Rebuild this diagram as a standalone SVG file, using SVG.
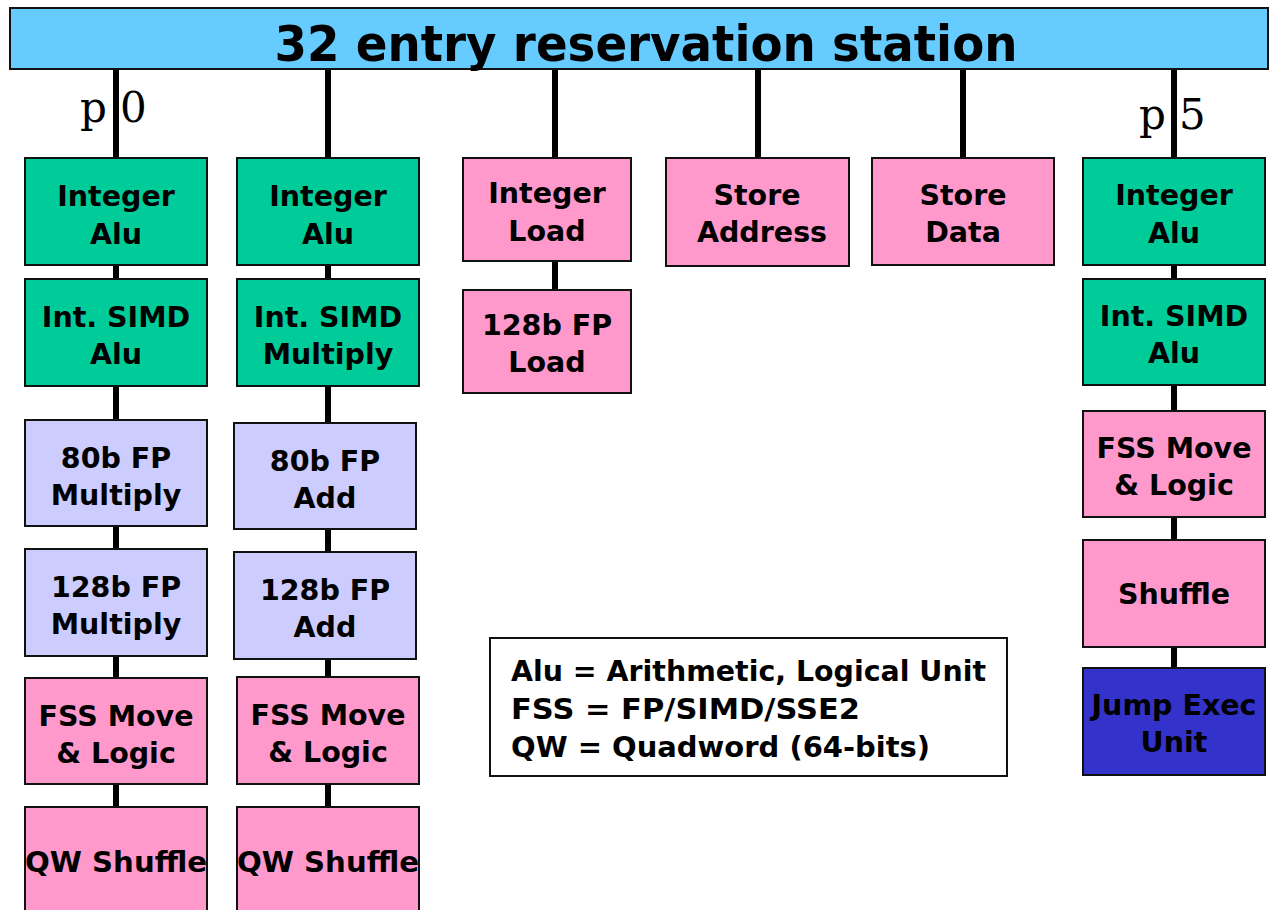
<svg xmlns="http://www.w3.org/2000/svg" width="1269" height="910" viewBox="0 0 1269 910">
<style>
.box{stroke:#111;stroke-width:2}
.g{fill:#00CC99}.p{fill:#FF99CC}.l{fill:#CCCCFF}.d{fill:#3333CC}
.t{font-family:"DejaVu Sans",sans-serif;font-weight:bold;font-size:28.5px;text-anchor:middle;fill:#000}
.lg{font-family:"DejaVu Sans",sans-serif;font-weight:bold;font-size:29px;fill:#000}
.port{font-family:"DejaVu Serif","Liberation Serif",serif;font-size:42px;fill:#000}
.c{stroke:#000;stroke-width:6;fill:none}
</style>
<rect width="1269" height="910" fill="#fff"/>
<g id="connectors">
<line class="c" x1="116" y1="69" x2="116" y2="808"/>
<line class="c" x1="328" y1="69" x2="328" y2="808"/>
<line class="c" x1="555" y1="69" x2="555" y2="291"/>
<line class="c" x1="758" y1="69" x2="758" y2="159"/>
<line class="c" x1="963" y1="69" x2="963" y2="159"/>
<line class="c" x1="1174" y1="69" x2="1174" y2="669"/>
</g>
<g id="rs">
<rect x="10" y="8" width="1258" height="61" fill="#66CCFF" class="box"/>
<text x="646" y="61" font-family="DejaVu Sans,sans-serif" font-weight="bold" font-size="50" text-anchor="middle" textLength="743" lengthAdjust="spacingAndGlyphs">32 entry reservation station</text>
</g>
<g id="p0label"><text class="port" x="80 120" y="122">p0</text></g>
<g id="p5label"><text class="port" x="1139 1179" y="129">p5</text></g>

<g id="c0-intalu"><rect class="box g" x="25" y="158" width="182" height="107"/><text class="t" x="116" y="206">Integer</text><text class="t" x="116" y="244">Alu</text></g>
<g id="c0-simd"><rect class="box g" x="25" y="279" width="182" height="107"/><text class="t" x="116" y="327">Int. SIMD</text><text class="t" x="116" y="364">Alu</text></g>
<g id="c0-80fp"><rect class="box l" x="25" y="420" width="182" height="106"/><text class="t" x="116" y="468">80b FP</text><text class="t" x="116" y="505">Multiply</text></g>
<g id="c0-128fp"><rect class="box l" x="25" y="549" width="182" height="107"/><text class="t" x="116" y="597">128b FP</text><text class="t" x="116" y="634">Multiply</text></g>
<g id="c0-fss"><rect class="box p" x="25" y="678" width="182" height="106"/><text class="t" x="116" y="726">FSS Move</text><text class="t" x="116" y="763">&amp; Logic</text></g>
<g id="c0-qw"><rect class="box p" x="25" y="807" width="182" height="110"/><text class="t" x="116" y="872" textLength="182" lengthAdjust="spacingAndGlyphs">QW Shuffle</text></g>

<g id="c1-intalu"><rect class="box g" x="237" y="158" width="182" height="107"/><text class="t" x="328" y="206">Integer</text><text class="t" x="328" y="244">Alu</text></g>
<g id="c1-simd"><rect class="box g" x="237" y="279" width="182" height="107"/><text class="t" x="328" y="327">Int. SIMD</text><text class="t" x="328" y="364">Multiply</text></g>
<g id="c1-80fp"><rect class="box l" x="234" y="423" width="182" height="106"/><text class="t" x="325" y="471">80b FP</text><text class="t" x="325" y="508">Add</text></g>
<g id="c1-128fp"><rect class="box l" x="234" y="552" width="182" height="107"/><text class="t" x="325" y="600">128b FP</text><text class="t" x="325" y="637">Add</text></g>
<g id="c1-fss"><rect class="box p" x="237" y="677" width="182" height="107"/><text class="t" x="328" y="725">FSS Move</text><text class="t" x="328" y="762">&amp; Logic</text></g>
<g id="c1-qw"><rect class="box p" x="237" y="807" width="182" height="110"/><text class="t" x="328" y="872" textLength="182" lengthAdjust="spacingAndGlyphs">QW Shuffle</text></g>

<g id="c2-intload"><rect class="box p" x="463" y="158" width="168" height="103"/><text class="t" x="547" y="203">Integer</text><text class="t" x="547" y="241">Load</text></g>
<g id="c2-fpload"><rect class="box p" x="463" y="290" width="168" height="103"/><text class="t" x="547" y="335">128b FP</text><text class="t" x="547" y="372">Load</text></g>

<g id="c3-staddr"><rect class="box p" x="666" y="158" width="183" height="108"/><text class="t" x="757" y="205">Store</text><text class="t" x="762" y="242">Address</text></g>
<g id="c4-stdata"><rect class="box p" x="872" y="158" width="182" height="107"/><text class="t" x="963" y="205">Store</text><text class="t" x="963" y="242">Data</text></g>

<g id="c5-intalu"><rect class="box g" x="1083" y="158" width="182" height="107"/><text class="t" x="1174" y="205">Integer</text><text class="t" x="1174" y="243">Alu</text></g>
<g id="c5-simd"><rect class="box g" x="1083" y="279" width="182" height="106"/><text class="t" x="1174" y="326">Int. SIMD</text><text class="t" x="1174" y="363">Alu</text></g>
<g id="c5-fss"><rect class="box p" x="1083" y="411" width="182" height="106"/><text class="t" x="1174" y="458">FSS Move</text><text class="t" x="1174" y="495">&amp; Logic</text></g>
<g id="c5-shuffle"><rect class="box p" x="1083" y="540" width="182" height="107"/><text class="t" x="1174" y="604">Shuffle</text></g>
<g id="c5-jump"><rect class="box d" x="1083" y="668" width="182" height="107"/><text class="t" x="1174" y="715">Jump Exec</text><text class="t" x="1174" y="752">Unit</text></g>

<g id="legend"><rect class="box" x="490" y="638" width="517" height="138" fill="#fff"/>
<text class="lg" x="511" y="681" textLength="475" lengthAdjust="spacingAndGlyphs">Alu = Arithmetic, Logical Unit</text>
<text class="lg" x="511" y="719" textLength="349" lengthAdjust="spacingAndGlyphs">FSS = FP/SIMD/SSE2</text>
<text class="lg" x="511" y="757" textLength="419" lengthAdjust="spacingAndGlyphs">QW = Quadword (64-bits)</text>
</g>
</svg>
